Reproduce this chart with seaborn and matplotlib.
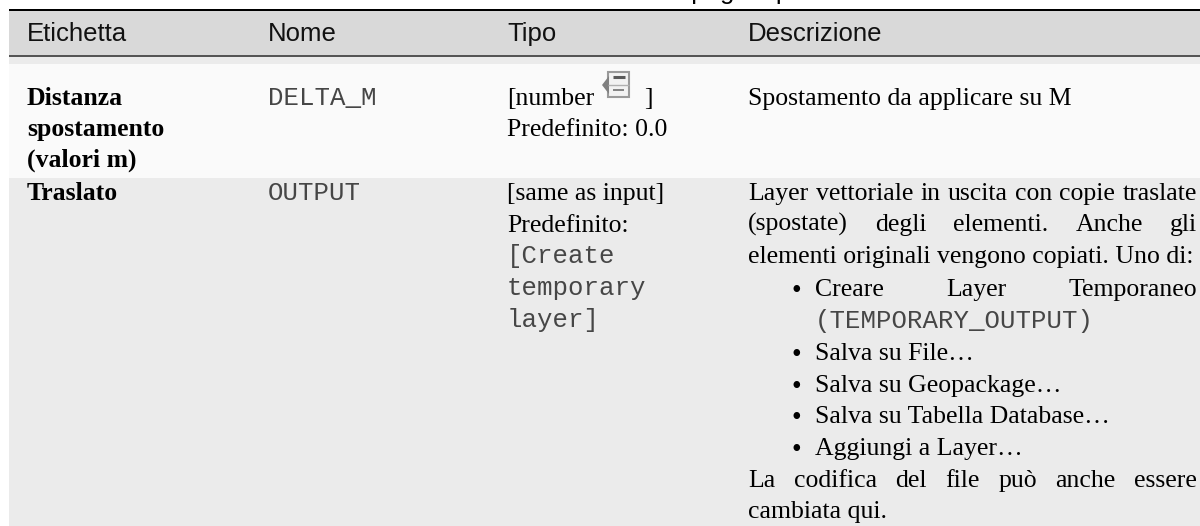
"""Parameter table (Etichetta / Nome / Tipo / Descrizione) redrawn with a seaborn heatmap as the background."""
import numpy as np
import matplotlib
matplotlib.use("Agg")
import matplotlib.pyplot as plt
from matplotlib.colors import ListedColormap
from matplotlib.patches import Polygon, Rectangle
import seaborn as sns

# ── Table content ──────────────────────────────────────────────────────────────
CAPTION = "continua da pagina precedente"
HEADERS = ["Etichetta", "Nome", "Tipo", "Descrizione"]
ROW1_LABEL = ["Distanza", "spostamento", "(valori m)"]
ROW1_NAME = "DELTA_M"
ROW1_TYPE = ["[number", "Predefinito: 0.0"]
ROW1_DESC = "Spostamento da applicare su M"
ROW2_LABEL = "Traslato"
ROW2_NAME = "OUTPUT"
ROW2_TYPE = ["[same as input]", "Predefinito:"]
ROW2_TYPE_MONO = ["[Create", "temporary", "layer]"]
ROW2_DESC_JUST = ["Layer vettoriale in uscita con copie traslate",
                  "(spostate) degli elementi. Anche gli"]
ROW2_DESC_LAST = "elementi originali vengono copiati. Uno di:"
BULLET_JUST = "Creare Layer Temporaneo"
BULLET_MONO = "(TEMPORARY_OUTPUT)"
BULLETS = ["Salva su File…", "Salva su Geopackage…",
           "Salva su Tabella Database…", "Aggiungi a Layer…"]
NOTE_JUST = "La codifica del file può anche essere"
NOTE_LAST = "cambiata qui."

# ── Layout (pixels) ────────────────────────────────────────────────────────────
BAND_COLORS = ["#ffffff", "#000000", "#d9d9d9", "#555555", "#ebebeb", "#fafafa", "#ebebeb"]
BAND_HEIGHTS = [9, 2, 44, 2, 7, 114, 348]
TABLE_LEFT = 9
COL_X = [27, 268, 507, 748]
RIGHT = 1197
BULLET_X, ITEM_X = 796, 815
SERIF = "Liberation Serif"
SANS = "Liberation Sans"
MONO = "Liberation Mono"
FS = 18.5
MONO_GREY = "#464646"

sns.set_theme(style="white")
fig, ax = plt.subplots(figsize=(12, 5.26), dpi=100)
fig.subplots_adjust(0, 0, 1, 1)

# Background bands, one heatmap cell per pixel so data coords are pixel coords
ids = np.repeat(np.arange(len(BAND_COLORS)), BAND_HEIGHTS)
mat = np.tile(ids[:, None], (1, 1200))
mat[:, :TABLE_LEFT] = 0
sns.heatmap(mat, cmap=ListedColormap(BAND_COLORS), vmin=0, vmax=len(BAND_COLORS) - 1,
            cbar=False, xticklabels=False, yticklabels=False, ax=ax)
ax.set_xlim(0, 1200)
ax.set_ylim(526, 0)
ax.set_xlabel("")
ax.set_ylabel("")


def put(x, y, s, family=SERIF, weight="normal", color="black", size=FS):
    return ax.text(x, y, s, family=family, fontweight=weight, color=color, fontsize=size,
                   ha="left", va="baseline", clip_on=False)


def bullet(y):
    ax.text(BULLET_X, y + 2, "•", family=SERIF, fontsize=20, color="black", ha="center", va="baseline")


def justified(x0, x1, y, line):
    renderer = fig.canvas.get_renderer()
    words = line.split()
    arts = [put(0, y, w) for w in words]
    widths = [a.get_window_extent(renderer).width for a in arts]
    gap = (x1 - x0 - sum(widths)) / (len(words) - 1)
    x = x0
    for art, w in zip(arts, widths):
        art.set_x(x)
        x += w + gap


# Cut-off continuation caption above the table
ax.text(905, -1.5, CAPTION, family=SANS, fontsize=FS, ha="right", va="baseline", color="black")

# Header
for x, label in zip(COL_X, HEADERS):
    put(x, 41, label, family=SANS, color="#111111")

# Row 1
for y, line in zip([105, 136, 167], ROW1_LABEL):
    put(COL_X[0], y, line, weight="bold")
put(COL_X[1], 105, ROW1_NAME, family=MONO, color=MONO_GREY)
put(COL_X[2], 105, ROW1_TYPE[0])
put(COL_X[2], 136, ROW1_TYPE[1])
put(644, 105, "]")
put(COL_X[3], 105, ROW1_DESC)

# Parameter icon next to [number
ax.add_patch(Rectangle((608, 72), 21, 25, fc="#f2f2f2", ec="#9a9a9a", lw=1.5))
ax.add_patch(Polygon([(602, 85), (609, 76), (609, 94)], fc="#808080", ec="none"))
ax.plot([613, 625], [77, 77], color="#5a5a5a", lw=2.2, solid_capstyle="butt")
ax.plot([608, 629], [85, 85], color="#b0b0b0", lw=1, solid_capstyle="butt")
ax.plot([613, 624], [90, 90], color="#707070", lw=1.2, solid_capstyle="butt")

# Row 2
put(COL_X[0], 200, ROW2_LABEL, weight="bold")
put(COL_X[1], 200, ROW2_NAME, family=MONO, color=MONO_GREY)
for y, line in zip([200, 232], ROW2_TYPE):
    put(COL_X[2], y, line)
for y, line in zip([263, 295, 327], ROW2_TYPE_MONO):
    put(COL_X[2], y, line, family=MONO, color=MONO_GREY)

fig.canvas.draw()
for y, line in zip([200, 231], ROW2_DESC_JUST):
    justified(COL_X[3], RIGHT, y, line)
put(COL_X[3], 263, ROW2_DESC_LAST)
bullet(296)
justified(ITEM_X, RIGHT, 296, BULLET_JUST)
put(ITEM_X, 328, BULLET_MONO, family=MONO, color=MONO_GREY)
for y, line in zip([360, 392, 423, 455], BULLETS):
    bullet(y)
    put(ITEM_X, y, line)
justified(COL_X[3], RIGHT, 487, NOTE_JUST)
put(COL_X[3], 518, NOTE_LAST)

fig.savefig("out.png", dpi=100)
plt.close(fig)
